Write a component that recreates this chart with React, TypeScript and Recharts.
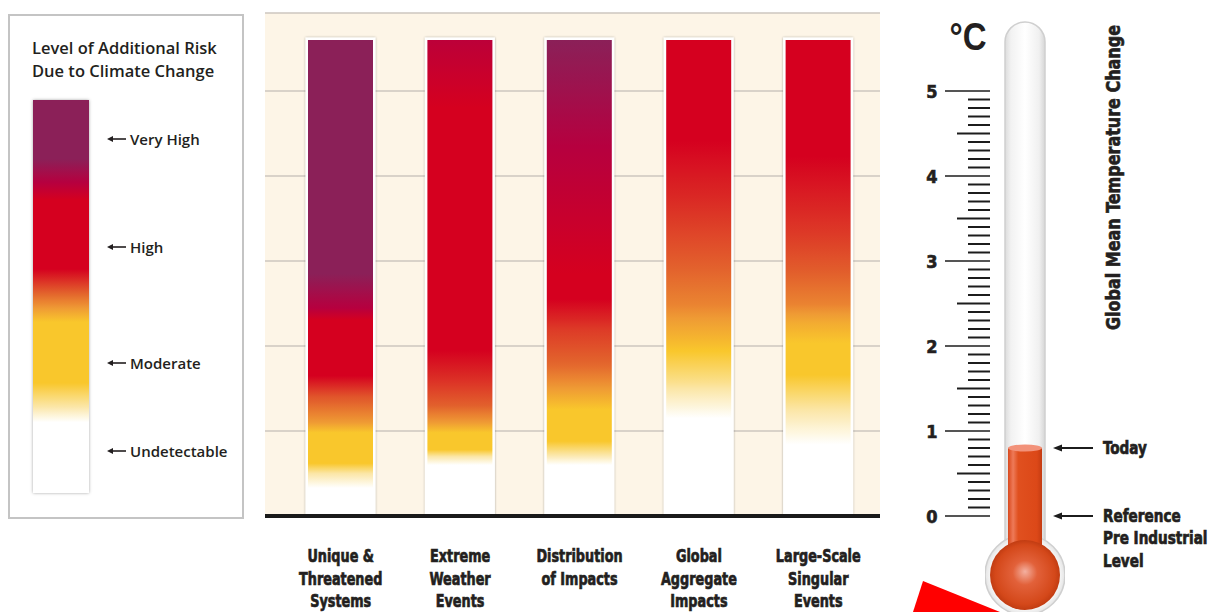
import React from 'react';
import { BarChart, Bar, XAxis, YAxis, CartesianGrid, ReferenceLine } from 'recharts';

const W = 1212;
const H = 612;
const COND = "'DejaVu Sans Condensed', 'DejaVu Sans', sans-serif";
const SANS = "'Open Sans', 'Noto Sans', sans-serif";
const INK = '#231F20';

// ---------- data ----------
const CATEGORIES = [
  'Unique & Threatened Systems',
  'Extreme Weather Events',
  'Distribution of Impacts',
  'Global Aggregate Impacts',
  'Large-Scale Singular Events',
];
const CATEGORY_LINES = [
  ['Unique &', 'Threatened', 'Systems'],
  ['Extreme', 'Weather', 'Events'],
  ['Distribution', 'of Impacts'],
  ['Global', 'Aggregate', 'Impacts'],
  ['Large-Scale', 'Singular', 'Events'],
];
// upper end of each ember (°C)
const EMBER_TOP = [5.6, 5.6, 5.6, 5.6, 5.6];

// risk level vs temperature: [°C, level]; 0 undetectable, 1 moderate, 2 high, 3 very high
const UNIQUE_RISK: [number, number][] = [[0.33, 0], [0.5, 0.5], [0.62, 1], [0.98, 1], [1.1, 1.25], [1.4, 1.55], [1.65, 2], [2.3, 2], [2.45, 2.5], [2.85, 3], [5.6, 3]];
const EXTREME_RISK: [number, number][] = [[0.6, 0], [0.7, 0.5], [0.78, 1], [0.98, 1], [1.1, 1.25], [1.3, 1.5], [1.6, 1.75], [1.95, 2], [4.8, 2], [5.6, 2.4]];
const DISTRIBUTION_RISK: [number, number][] = [[0.6, 0], [0.72, 0.5], [0.88, 1], [1.25, 1], [1.5, 1.25], [1.75, 1.45], [2.2, 1.7], [2.55, 2], [2.85, 2], [4.35, 2.5], [5.2, 2.85], [5.6, 3]];
const AGGREGATE_RISK: [number, number][] = [[1.15, 0], [1.57, 0.6], [1.94, 1], [2.16, 1.15], [2.49, 1.35], [3.08, 1.55], [3.78, 1.8], [4.42, 2], [5.6, 2]];
const SINGULAR_RISK: [number, number][] = [[0.84, 0], [1.25, 0.5], [1.66, 1], [2.03, 1], [2.26, 1.15], [2.49, 1.35], [3.32, 1.7], [4.23, 2], [5.6, 2]];
const EMBERS = [UNIQUE_RISK, EXTREME_RISK, DISTRIBUTION_RISK, AGGREGATE_RISK, SINGULAR_RISK];

// legend scale: [fraction from top, level]
const LEGEND_RISK: [number, number][] = [[0, 3], [0.15, 3], [0.21, 2.5], [0.255, 2], [0.43, 2], [0.49, 1.5], [0.53, 1.25], [0.565, 1], [0.72, 1], [0.78, 0.5], [0.82, 0], [1, 0]];
const LEGEND_LABELS = ['Very High', 'High', 'Moderate', 'Undetectable'];
const LEGEND_LABEL_POS = [0.099, 0.374, 0.669, 0.893];
const LEGEND_TITLE = ['Level of Additional Risk', 'Due to Climate Change'];

// thermometer
const THERMO_MAJOR = [0, 1, 2, 3, 4, 5];
const THERMO_TICKS = Array.from({ length: 51 }, (_, i) => i / 10);
const TODAY_WARMING = 0.8;
const THERMO_MARKERS = [
  { value: 0.8, lines: ['Today'] },
  { value: 0, lines: ['Reference', 'Pre Industrial', 'Level'] },
];
const BULB_LEVEL = -0.694;
const THERMO_TITLE = 'Global Mean Temperature Change';

// ---------- colour helpers ----------
const PALETTE: [number, string][] = [
  [0, '#FFFFFF'], [0.5, '#FBE6A6'], [1, '#F9C72C'], [1.25, '#EF9B34'],
  [1.5, '#E2602C'], [2, '#D5001F'], [2.5, '#B6003F'], [3, '#8B2058'],
];
function hexRgb(h: string) {
  const n = parseInt(h.slice(1), 16);
  return [(n >> 16) & 255, (n >> 8) & 255, n & 255];
}
function lerpHex(a: string, b: string, t: number) {
  const A = hexRgb(a), B = hexRgb(b);
  const c = A.map((v, i) => Math.round(v + (B[i] - v) * t));
  return `rgb(${c[0]},${c[1]},${c[2]})`;
}
function levelColor(l: number) {
  const c = Math.max(0, Math.min(3, l));
  for (let i = 0; i < PALETTE.length - 1; i++) {
    const [l0, c0] = PALETTE[i];
    const [l1, c1] = PALETTE[i + 1];
    if (c <= l1) return lerpHex(c0, c1, (c - l0) / (l1 - l0));
  }
  return PALETTE[PALETTE.length - 1][1];
}
function densify(points: [number, number][], steps = 6) {
  const out: { pos: number; color: string }[] = [];
  for (let i = 0; i < points.length - 1; i++) {
    const [p0, l0] = points[i];
    const [p1, l1] = points[i + 1];
    for (let k = 0; k < steps; k++) {
      const t = k / steps;
      out.push({ pos: p0 + (p1 - p0) * t, color: levelColor(l0 + (l1 - l0) * t) });
    }
  }
  const last = points[points.length - 1];
  out.push({ pos: last[0], color: levelColor(last[1]) });
  return out;
}
function emberStops(risk: [number, number][], top: number) {
  const pts: [number, number][] = [[0, risk[0][1]], ...risk];
  if (pts[pts.length - 1][0] < top) pts.push([top, pts[pts.length - 1][1]]);
  return densify(pts)
    .map((s) => ({ offset: 1 - s.pos / top, color: s.color }))
    .sort((a, b) => a.offset - b.offset);
}
const squeeze = (x: number, s: number) => `translate(${x},0) scale(${s},1) translate(${-x},0)`;

// ---------- main chart pieces ----------
const Y_MAX = 503 / 85;
const emberData = CATEGORIES.map((name, i) => ({ name, top: EMBER_TOP[i] }));

const EmberShape = (p: any) => {
  const { x, y, width, height } = p;
  const idx = p.index ?? CATEGORIES.indexOf(p.payload?.name);
  return (
    <g>
      <rect x={x - 2.5} y={y - 2.5} width={width + 5} height={height + 2.5} fill="#fff" filter="url(#emberGlow)" />
      <rect x={x} y={y} width={width} height={height} fill={`url(#ember-${idx})`} />
    </g>
  );
};

const CategoryTick = (p: any) => {
  const { x, y, payload } = p;
  const idx = CATEGORIES.indexOf(payload.value);
  const lines = CATEGORY_LINES[idx] || [];
  return (
    <text transform={squeeze(x, 0.77)} textAnchor="middle" fontFamily={COND} fontWeight={700} fontSize={18.5} fill={INK} stroke={INK} strokeWidth={0.7}>
      {lines.map((l, i) => (
        <tspan key={i} x={x} y={y + 40 + i * 22.5} dominantBaseline="central">{l}</tspan>
      ))}
    </text>
  );
};

// ---------- thermometer pieces ----------
const T_MIN = -96 / 85;
const T_MAX = 494 / 85;
const thermoData = [{ name: 'today', mercury: [BULB_LEVEL, TODAY_WARMING] }];

const ThermoTick = (p: any) => {
  const { x, y, payload } = p;
  const tenth = Math.round(payload.value * 10);
  const major = THERMO_MAJOR.includes(tenth / 10);
  const half = tenth % 5 === 0;
  const x2 = x - 15;
  const x1 = major ? x - 60 : half ? x - 48 : x - 37;
  return (
    <g>
      <line x1={x1} x2={x2} y1={y} y2={y} stroke="#1c1c1c" strokeWidth={major ? 1.6 : 2} />
      {major && (
        <text x={x - 73} y={y} textAnchor="middle" dominantBaseline="central" fontFamily={COND} fontWeight={700} fontSize={18} fill={INK} stroke={INK} strokeWidth={0.6}>
          {tenth / 10}
        </text>
      )}
    </g>
  );
};

const MarkerTick = (p: any) => {
  const { x, y, payload } = p;
  const m = THERMO_MARKERS.find((mk) => Math.abs(mk.value - payload.value) < 1e-6);
  if (!m) return null;
  const tx = x + 58;
  return (
    <g>
      <line x1={x + 13} x2={x + 48} y1={y} y2={y} stroke="#1c1c1c" strokeWidth={2} />
      <polygon points={`${x + 8},${y} ${x + 17},${y - 3.5} ${x + 17},${y + 3.5}`} fill="#1c1c1c" />
      <text transform={squeeze(tx, 0.84)} fontFamily={COND} fontWeight={700} fontSize={18} fill={INK} stroke={INK} strokeWidth={0.7}>
        {m.lines.map((l, i) => (
          <tspan key={i} x={tx} y={y + i * 22.5} dominantBaseline="central">{l}</tspan>
        ))}
      </text>
    </g>
  );
};

const GlassTube = (p: any) => {
  const { x, y, width, height } = p;
  const gx = x - 3;
  const gw = width + 6;
  const r = gw / 2;
  const bottom = y + height - 45;
  const d = `M${gx},${y + r} A${r},${r} 0 0 1 ${gx + gw},${y + r} L${gx + gw},${bottom} L${gx},${bottom} Z`;
  return <path d={d} fill="url(#glassGrad)" stroke="#cfcfcf" strokeWidth={1.5} />;
};

const MercuryShape = (p: any) => {
  const { x, y, width, height } = p;
  const cx = x + width / 2;
  const cy = y + height;
  return (
    <g>
      <circle cx={cx} cy={cy} r={40} fill="url(#ringGrad)" stroke="#cfcfcf" strokeWidth={1.5} />
      <rect x={x} y={y} width={width} height={height} fill="url(#mercuryGrad)" />
      <ellipse cx={cx} cy={y} rx={width / 2} ry={3.5} fill="#F2927A" />
      <circle cx={cx} cy={cy} r={35} fill="url(#bulbGrad)" />
    </g>
  );
};

// ---------- legend ----------
const legendGradient = `linear-gradient(to bottom, ${densify(LEGEND_RISK)
  .map((s) => `${s.color} ${(s.pos * 100).toFixed(2)}%`)
  .join(', ')})`;

const RiskLegend = () => (
  <div style={{ position: 'absolute', left: 8, top: 14, width: 236, height: 505, border: '2px solid #C4C4C4', boxSizing: 'border-box', background: '#fff' }}>
    {LEGEND_TITLE.map((t, i) => (
      <div key={t} style={{ position: 'absolute', left: 22, top: 20 + i * 23, height: 23, lineHeight: '23px', fontFamily: SANS, fontWeight: 600, fontSize: 16.5, color: INK, whiteSpace: 'nowrap' }}>
        {t}
      </div>
    ))}
    <div style={{ position: 'absolute', left: 23, top: 84, width: 56, height: 393, background: legendGradient, boxShadow: '0 0 3px rgba(0,0,0,0.35)' }} />
    {LEGEND_LABELS.map((t, i) => (
      <div key={t} style={{ position: 'absolute', left: 96, top: 84 + LEGEND_LABEL_POS[i] * 393 - 11, height: 22, display: 'flex', alignItems: 'center', whiteSpace: 'nowrap' }}>
        <svg width={22} height={10} style={{ marginRight: 2 }}>
          <line x1={5} x2={20} y1={5} y2={5} stroke={INK} strokeWidth={1.6} />
          <polygon points="1,5 7,2 7,8" fill={INK} />
        </svg>
        <span style={{ fontFamily: SANS, fontWeight: 600, fontSize: 15, color: INK }}>{t}</span>
      </div>
    ))}
  </div>
);

export default function App() {
  return (
    <div style={{ position: 'absolute', left: 0, top: 0, width: W, height: H, background: '#fff', overflow: 'hidden' }}>
      <RiskLegend />

      <div style={{ position: 'absolute', left: 0, top: 0 }}>
        <BarChart width={W} height={H} data={emberData} margin={{ top: 13, right: 332, bottom: 6, left: 265 }}>
          <defs>
            <filter id="emberGlow" x="-20%" y="-5%" width="140%" height="110%">
              <feDropShadow dx="0" dy="0" stdDeviation="1.3" floodColor="#000" floodOpacity="0.35" />
            </filter>
            {EMBERS.map((risk, i) => (
              <linearGradient key={i} id={`ember-${i}`} x1="0" y1="0" x2="0" y2="1">
                {emberStops(risk, EMBER_TOP[i]).map((s, k) => (
                  <stop key={k} offset={s.offset} stopColor={s.color} />
                ))}
              </linearGradient>
            ))}
          </defs>
          <CartesianGrid vertical={false} stroke="#CCC6BF" strokeWidth={1.5} fill="#FDF5E7" fillOpacity={1} />
          <XAxis dataKey="name" axisLine={false} tickLine={false} tickSize={0} tickMargin={0} height={90} interval={0} padding={{ left: 16, right: 2 }} tick={(p: any) => <CategoryTick {...p} />} />
          <YAxis hide type="number" domain={[0, Y_MAX]} ticks={[0, 1, 2, 3, 4, 5]} allowDataOverflow />
          <Bar dataKey="top" barSize={65} isAnimationActive={false} shape={(p: any) => <EmberShape {...p} />} />
          <ReferenceLine y={0} stroke="#1A1A1A" strokeWidth={4} />
        </BarChart>
      </div>

      <div style={{ position: 'absolute', left: 0, top: 0 }}>
        <BarChart width={W} height={H} data={thermoData} margin={{ top: 22, right: 67, bottom: 0, left: 945 }}>
          <defs>
            <linearGradient id="glassGrad" x1="0" y1="0" x2="1" y2="0">
              <stop offset="0" stopColor="#dcdcdc" />
              <stop offset="0.15" stopColor="#f2f2f2" />
              <stop offset="0.5" stopColor="#ffffff" />
              <stop offset="0.85" stopColor="#f0f0f0" />
              <stop offset="1" stopColor="#d6d6d6" />
            </linearGradient>
            <linearGradient id="mercuryGrad" x1="0" y1="0" x2="1" y2="0">
              <stop offset="0" stopColor="#D9481C" />
              <stop offset="0.15" stopColor="#EE7A58" />
              <stop offset="0.3" stopColor="#E0501F" />
              <stop offset="0.85" stopColor="#DC4818" />
              <stop offset="1" stopColor="#C43C12" />
            </linearGradient>
            <radialGradient id="bulbGrad" cx="0.5" cy="0.5" r="0.5" fx="0.5" fy="0.45">
              <stop offset="0" stopColor="#F4B0A0" />
              <stop offset="0.35" stopColor="#E2613A" />
              <stop offset="0.85" stopColor="#D4481A" />
              <stop offset="1" stopColor="#C13C12" />
            </radialGradient>
            <radialGradient id="ringGrad" cx="0.5" cy="0.5" r="0.5">
              <stop offset="0.8" stopColor="#ffffff" />
              <stop offset="1" stopColor="#e4e4e4" />
            </radialGradient>
          </defs>
          <XAxis dataKey="name" hide />
          <YAxis yAxisId="scale" orientation="left" width={60} type="number" domain={[T_MIN, T_MAX]} ticks={THERMO_TICKS} interval={0} axisLine={false} tickLine={false} tickSize={0} tickMargin={0} allowDataOverflow tick={(p: any) => <ThermoTick {...p} />} />
          <YAxis yAxisId="marks" orientation="right" width={100} type="number" domain={[T_MIN, T_MAX]} ticks={THERMO_MARKERS.map((m) => m.value)} interval={0} axisLine={false} tickLine={false} tickSize={0} tickMargin={0} allowDataOverflow tick={(p: any) => <MarkerTick {...p} />} />
          <Bar yAxisId="scale" dataKey="mercury" barSize={34} isAnimationActive={false} background={(p: any) => <GlassTube {...p} />} shape={(p: any) => <MercuryShape {...p} />} />
        </BarChart>
      </div>

      <svg width={W} height={H} style={{ position: 'absolute', left: 0, top: 0, pointerEvents: 'none' }}>
        <text x={968} y={37} textAnchor="middle" dominantBaseline="central" fontFamily="'Liberation Sans', sans-serif" fontWeight={700} fontSize={38} fill={INK} textLength={37} lengthAdjust="spacingAndGlyphs">°C</text>
        <text x={1113} y={177.5} transform="rotate(-90 1113 177.5)" textAnchor="middle" dominantBaseline="central" fontFamily={COND} fontWeight={700} fontSize={19} fill={INK} stroke={INK} strokeWidth={0.6} textLength={305} lengthAdjust="spacingAndGlyphs">{THERMO_TITLE}</text>
        <polygon points="923,581 1000,612 913,612" fill="#FF0000" />
      </svg>
    </div>
  );
}
